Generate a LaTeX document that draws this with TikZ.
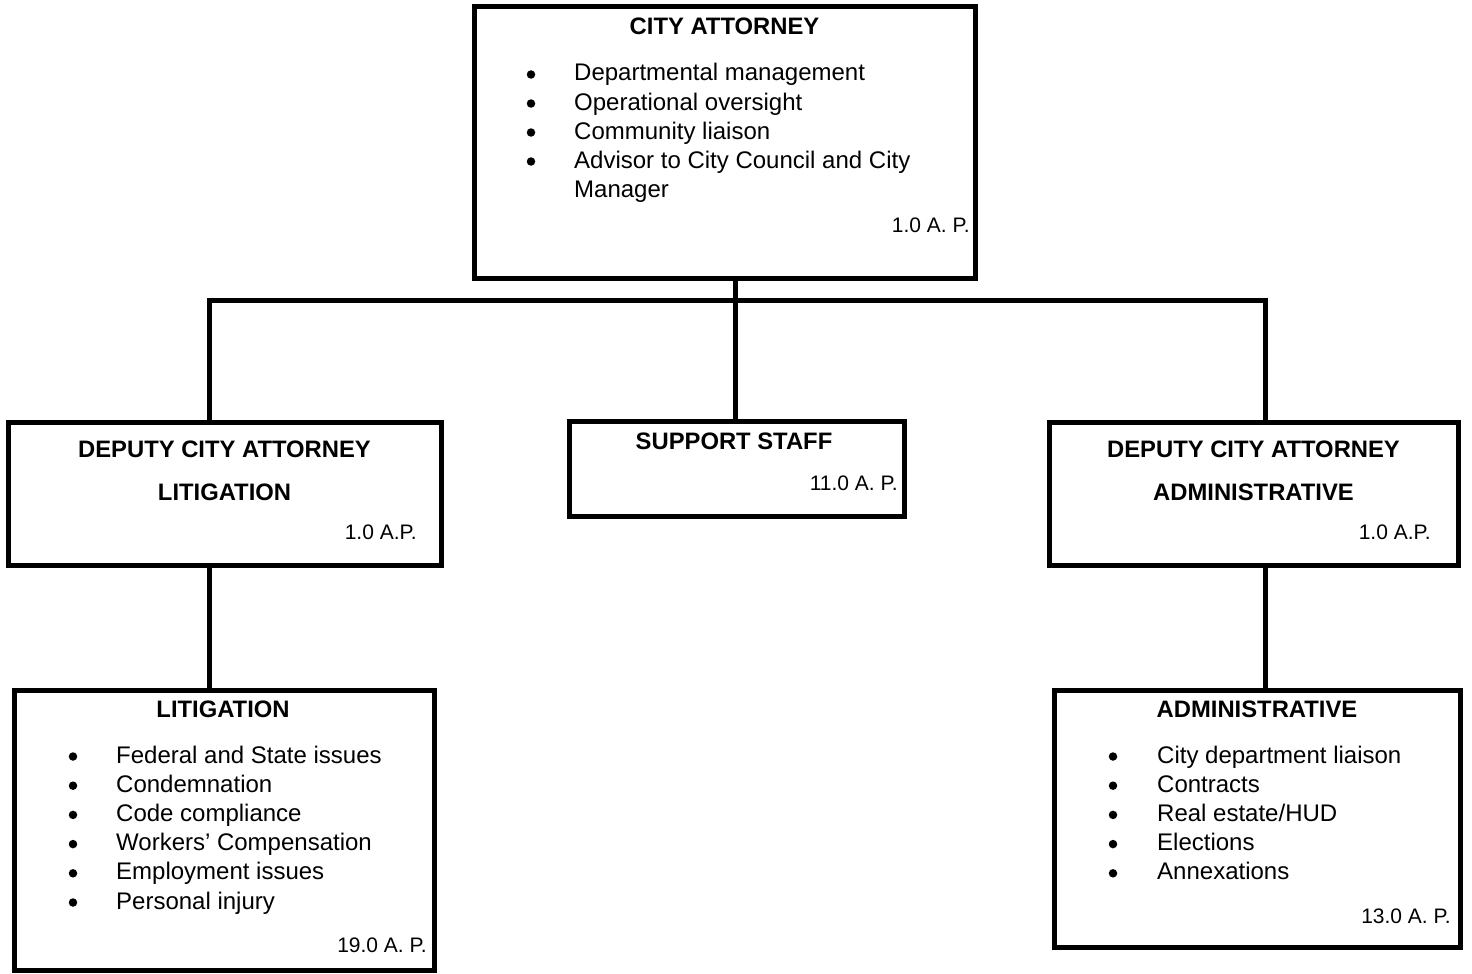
\documentclass[tikz,border=0pt]{standalone}
\usepackage{fontspec}
\setmainfont{Liberation Sans}
\begin{document}
\begin{tikzpicture}[x=1pt,y=-1pt,
  box/.style={draw, line width=5pt, inner sep=0pt, rectangle},
  link/.style={draw, line width=5pt},
  title/.style={font=\bfseries\fontsize{23.8}{29}\selectfont, inner sep=0pt, anchor=base},
  item/.style={font=\fontsize{24}{29}\selectfont, inner sep=0pt, anchor=base west},
  dot/.style={circle, fill, inner sep=0pt, minimum size=8.5pt},
  count/.style={font=\fontsize{21}{24}\selectfont, inner sep=0pt, anchor=base east}]
\useasboundingbox (0,0) rectangle (1472,974);

% boxes
\node[box, minimum width=501pt, minimum height=271pt] (ca) at (724.5,142.5) {};
\node[box, minimum width=433pt, minimum height=143pt] (dl) at (224.5,493.5) {};
\node[box, minimum width=335pt, minimum height=95pt]  (ss) at (736.5,468.5) {};
\node[box, minimum width=409pt, minimum height=143pt] (da) at (1253.5,493.5) {};
\node[box, minimum width=420pt, minimum height=280pt] (lt) at (224,830) {};
\node[box, minimum width=406pt, minimum height=257pt] (ad) at (1257,818.5) {};

% connector junctions
\coordinate (hub) at (735,300);
\coordinate (lj) at (209,300);
\coordinate (rj) at (1265,300);

\draw[link] (ca.south -| hub) -- (hub |- ss.north);
\draw[link] (dl.north -| lj) -- (lj) -- (rj) -- (da.north -| rj);
\draw[link] (dl.south -| lj) -- (lt.north -| lj);
\draw[link] (da.south -| rj) -- (ad.north -| rj);

% City Attorney
\node[title] (ca-t) at (724.5,35) {CITY ATTORNEY};
\foreach \txt [count=\i] in {Departmental management, Operational oversight, Community liaison, Advisor to City Council and City}{
  \node[dot] (ca-b\i) at (531,{81+29*(\i-1)-6.5}) {};
  \node[item] (ca-i\i) at (574,{81+29*(\i-1)}) {\txt};
}
\node[item] (ca-i5) at (574,197) {Manager};
\node[count] (ca-c) at (970,232) {1.0 A. P.};

% Deputy City Attorney, Litigation
\node[title] (dl-t1) at (224.5,457) {DEPUTY CITY ATTORNEY};
\node[title] (dl-t2) at (224.5,500) {LITIGATION};
\node[count] (dl-c) at (417,539) {1.0 A.P.};

% Support staff
\node[title] (ss-t) at (734,449) {SUPPORT STAFF};
\node[count] (ss-c) at (898,490) {11.0 A. P.};

% Deputy City Attorney, Administrative
\node[title] (da-t1) at (1253.5,457) {DEPUTY CITY ATTORNEY};
\node[title] (da-t2) at (1253.5,500) {ADMINISTRATIVE};
\node[count] (da-c) at (1431,539) {1.0 A.P.};

% Litigation
\node[title] (lt-t) at (223,717) {LITIGATION};
\foreach \txt [count=\i] in {Federal and State issues, Condemnation, Code compliance, Workers’ Compensation, Employment issues, Personal injury}{
  \node[dot] (lt-b\i) at (73,{763+29.2*(\i-1)-6.5}) {};
  \node[item] (lt-i\i) at (116,{763+29.2*(\i-1)}) {\txt};
}
\node[count] (lt-c) at (427,952) {19.0 A. P.};

% Administrative
\node[title] (ad-t) at (1257,717) {ADMINISTRATIVE};
\foreach \txt [count=\i] in {City department liaison, Contracts, Real estate/HUD, Elections, Annexations}{
  \node[dot] (ad-b\i) at (1113,{763+29.2*(\i-1)-6.5}) {};
  \node[item] (ad-i\i) at (1157,{763+29.2*(\i-1)}) {\txt};
}
\node[count] (ad-c) at (1451,923) {13.0 A. P.};
\end{tikzpicture}
\end{document}
